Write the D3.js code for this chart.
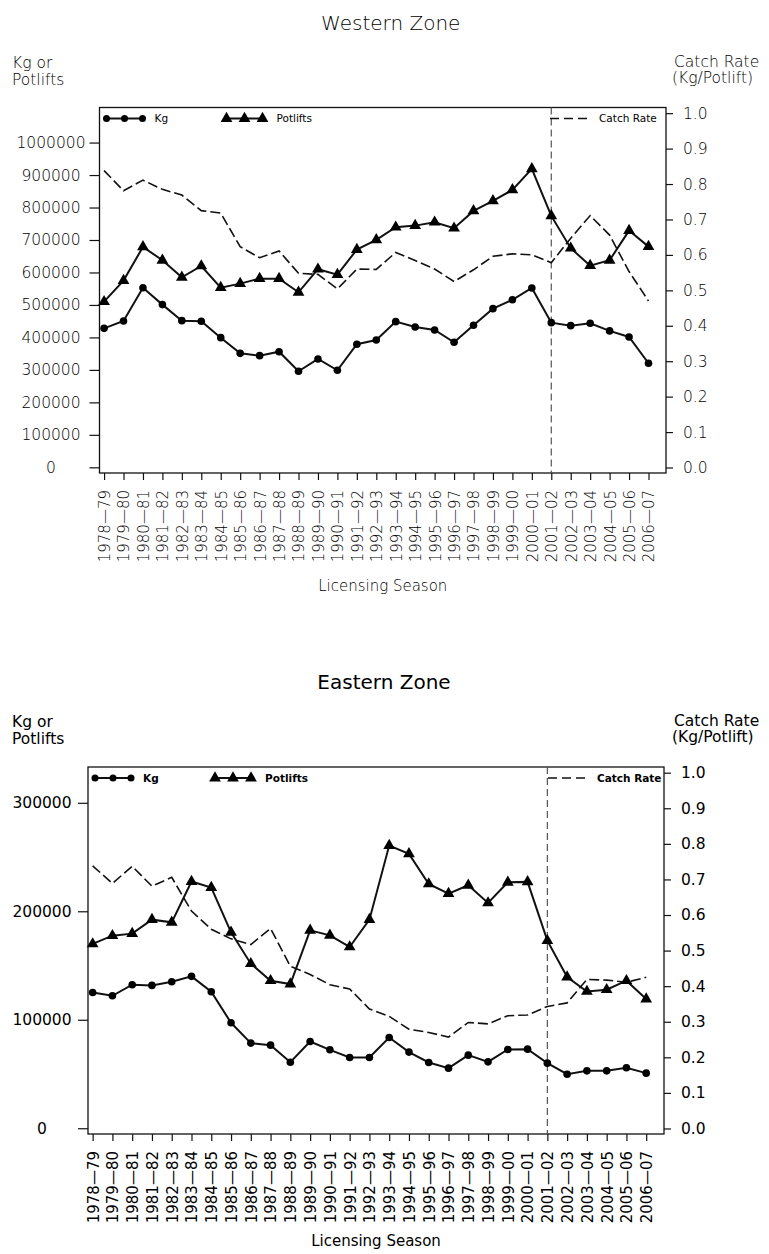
<!doctype html>
<html lang="en">
<head>
<meta charset="utf-8">
<title>Western and Eastern Zone catch</title>
<script src="https://d3js.org/d3.v7.min.js"></script>
<style>
  body { margin: 0; background: #fff; }
  text { font-family: "DejaVu Sans", sans-serif; fill: #000; }
</style>
</head>
<body>
<svg width="769" height="1254"></svg>
<script>
var seasons = ['1978-79','1979-80','1980-81','1981-82','1982-83','1983-84','1984-85','1985-86',
  '1986-87','1987-88','1988-89','1989-90','1990-91','1991-92','1992-93','1993-94','1994-95',
  '1995-96','1996-97','1997-98','1998-99','1999-00','2000-01','2001-02','2002-03','2003-04',
  '2004-05','2005-06','2006-07'];
var splitSeason = '2001-02';

var westKg = [428000,450700,553000,501000,451600,449800,399300,351000,343900,356000,295700,333600,
  298800,378900,392000,448600,432200,423000,385000,437400,488600,516000,552400,445500,436200,
  443600,420000,401400,320400];
var westPotlifts = [510000,575000,678700,637700,585300,620000,553300,565600,581000,581000,539000,
  610000,593400,670400,700300,739400,744300,754800,736300,789600,820400,854300,919000,774200,
  674700,621000,637700,729000,679600];
var westRate = [0.838,0.781,0.811,0.785,0.769,0.725,0.718,0.623,0.592,0.611,0.548,0.545,0.504,
  0.560,0.559,0.607,0.584,0.560,0.525,0.558,0.596,0.603,0.600,0.578,0.647,0.711,0.656,0.553,0.470];

var eastKg = [125200,122100,132300,131700,135100,140000,125800,97200,78500,76600,60900,80000,
  72300,65200,65200,83700,70200,60600,55400,67400,61200,72600,72900,60000,49800,52900,52900,
  55700,50800];
var eastPotlifts = [169900,177500,179400,192300,189800,227400,221800,180600,151700,136000,132900,
  182400,177800,167100,192300,260600,252900,225200,216300,224000,207700,226700,227100,172900,
  139400,126100,127700,136000,119100];
var eastRate = [0.738,0.689,0.737,0.681,0.706,0.611,0.560,0.533,0.517,0.562,0.456,0.433,0.404,
  0.392,0.336,0.315,0.279,0.270,0.257,0.298,0.294,0.317,0.319,0.343,0.353,0.419,0.417,0.411,0.425];

var westKgTicks = [0,100000,200000,300000,400000,500000,600000,700000,800000,900000,1000000];
var eastKgTicks = [0,100000,200000,300000];
var rateTicks = [0,0.1,0.2,0.3,0.4,0.5,0.6,0.7,0.8,0.9,1.0];

var svg = d3.select('svg');

var panels = [
  { title: 'Western Zone', kg: westKg, pots: westPotlifts, rate: westRate, kgTicks: westKgTicks,
    kgDomain: [-17500, 1108000], labelX: 51, weight: 300, legendWeight: 400, xTitleGap: 113,
    box: { left: 99.5, right: 666, top: 107.5, bottom: 473 } },
  { title: 'Eastern Zone', kg: eastKg, pots: eastPotlifts, rate: eastRate, kgTicks: eastKgTicks,
    kgDomain: [-5300, 333000], labelX: 42, weight: 400, legendWeight: 700, xTitleGap: 107,
    box: { left: 88, right: 664, top: 767, bottom: 1134 } }
];

var drawPanel = function(p){
  var b = p.box;
  var g = svg.append('g');
  var cx = (b.left + b.right) / 2;
  var fw = p.weight;

  var x = d3.scaleLinear().domain([-0.235, 28.9]).range([b.left, b.right]);
  var yKg = d3.scaleLinear().domain(p.kgDomain).range([b.bottom, b.top]);
  var yRate = d3.scaleLinear().domain([-0.0155, 1.016]).range([b.bottom, b.top]);

  var label = function(tx, ty, s, size, anchor){
    return g.append('text').attr('x', tx).attr('y', ty).attr('dy', '0.35em')
      .attr('text-anchor', anchor || 'start')
      .style('font-size', size + 'px').style('font-weight', fw).text(s);
  };

  // titles
  label(cx + 8, b.top - 85, p.title, 20, 'middle');
  label(12, b.top - 45, 'Kg or', 15.5);
  label(12, b.top - 28, 'Potlifts', 15.5);
  label(674, b.top - 46, 'Catch Rate', 15.5);
  label(672, b.top - 30, '(Kg/Potlift)', 15.5);

  // left axis
  var left = g.append('g').attr('transform', 'translate(' + b.left + ',0)')
    .call(d3.axisLeft(yKg).tickValues(p.kgTicks).tickSize(10).tickFormat(d3.format('d')));
  left.select('.domain').remove();
  left.selectAll('line').attr('stroke', '#111').attr('stroke-width', 1.2);
  left.selectAll('text').attr('x', p.labelX - b.left).attr('text-anchor', 'middle')
    .style('font-size', '15.5px').style('font-weight', fw).attr('fill', '#000');

  // right axis
  var right = g.append('g').attr('transform', 'translate(' + b.right + ',0)')
    .call(d3.axisRight(yRate).tickValues(rateTicks).tickSize(7).tickPadding(10).tickFormat(d3.format('.1f')));
  right.select('.domain').remove();
  right.selectAll('line').attr('stroke', '#111').attr('stroke-width', 1.2);
  right.selectAll('text').style('font-size', '15.5px').style('font-weight', fw).attr('fill', '#000');

  // bottom axis
  var bottom = g.append('g').attr('transform', 'translate(0,' + b.bottom + ')')
    .call(d3.axisBottom(x).tickValues(d3.range(seasons.length)).tickSize(7)
      .tickFormat(function(i){ return seasons[i].replace('-', '\u2014'); }));
  bottom.select('.domain').remove();
  bottom.selectAll('line').attr('stroke', '#111').attr('stroke-width', 1.2);
  bottom.selectAll('text')
    .attr('transform', 'rotate(-90)')
    .attr('x', -17).attr('y', 0).attr('dy', '0.36em')
    .attr('text-anchor', 'end')
    .style('font-size', '15px').style('font-weight', fw).attr('fill', '#000');

  label(cx, b.bottom + p.xTitleGap, 'Licensing Season', 15, 'middle');

  // frame
  g.append('rect').attr('x', b.left).attr('y', b.top)
    .attr('width', b.right - b.left).attr('height', b.bottom - b.top)
    .attr('fill', 'none').attr('stroke', '#111').attr('stroke-width', 1.3);

  // reference line
  var xs = x(seasons.indexOf(splitSeason));
  g.append('line').attr('x1', xs).attr('x2', xs).attr('y1', b.top).attr('y2', b.bottom)
    .attr('stroke', '#555').attr('stroke-width', 1.2).attr('stroke-dasharray', '7,4');

  var idx = d3.range(seasons.length);

  // catch rate
  g.append('path').datum(idx)
    .attr('d', d3.line().x(function(i){ return x(i); }).y(function(i){ return yRate(p.rate[i]); }))
    .attr('fill', 'none').attr('stroke', '#111').attr('stroke-width', 1.6)
    .attr('stroke-dasharray', '10,4');

  // potlifts
  g.append('path').datum(idx)
    .attr('d', d3.line().x(function(i){ return x(i); }).y(function(i){ return yKg(p.pots[i]); }))
    .attr('fill', 'none').attr('stroke', '#111').attr('stroke-width', 2);
  g.selectAll('.tri').data(idx).enter().append('path')
    .attr('d', d3.symbol().type(d3.symbolTriangle).size(60))
    .attr('transform', function(i){ return 'translate(' + x(i) + ',' + yKg(p.pots[i]) + ')'; })
    .attr('fill', '#000');

  // kg
  g.append('path').datum(idx)
    .attr('d', d3.line().x(function(i){ return x(i); }).y(function(i){ return yKg(p.kg[i]); }))
    .attr('fill', 'none').attr('stroke', '#111').attr('stroke-width', 2);
  g.selectAll('.dot').data(idx).enter().append('circle')
    .attr('cx', function(i){ return x(i); }).attr('cy', function(i){ return yKg(p.kg[i]); })
    .attr('r', 3.8).attr('fill', '#000');

  // legend
  var ly = b.top + 11;
  var lg = g.append('g');
  lg.append('line').attr('x1', b.left + 7).attr('x2', b.left + 43).attr('y1', ly).attr('y2', ly)
    .attr('stroke', '#111').attr('stroke-width', 2);
  [7, 25, 43].forEach(function(d){
    lg.append('circle').attr('cx', b.left + d).attr('cy', ly).attr('r', 3.5).attr('fill', '#000');
  });
  lg.append('text').attr('x', b.left + 55).attr('y', ly).attr('dy', '0.35em')
    .style('font-size', '10.5px').style('font-weight', p.legendWeight).text('Kg');
  lg.append('line').attr('x1', b.left + 127).attr('x2', b.left + 163).attr('y1', ly).attr('y2', ly)
    .attr('stroke', '#111').attr('stroke-width', 2);
  [127, 145, 163].forEach(function(d){
    lg.append('path').attr('d', d3.symbol().type(d3.symbolTriangle).size(60))
      .attr('transform', 'translate(' + (b.left + d) + ',' + ly + ')').attr('fill', '#000');
  });
  lg.append('text').attr('x', b.left + 177).attr('y', ly).attr('dy', '0.35em')
    .style('font-size', '10.5px').style('font-weight', p.legendWeight).text('Potlifts');
  lg.append('line').attr('x1', b.right - 116).attr('x2', b.right - 76).attr('y1', ly).attr('y2', ly)
    .attr('stroke', '#111').attr('stroke-width', 1.5).attr('stroke-dasharray', '9,5');
  lg.append('text').attr('x', b.right - 67).attr('y', ly).attr('dy', '0.35em')
    .style('font-size', '10.5px').style('font-weight', p.legendWeight).text('Catch Rate');
};

panels.forEach(drawPanel);
</script>
</body>
</html>
